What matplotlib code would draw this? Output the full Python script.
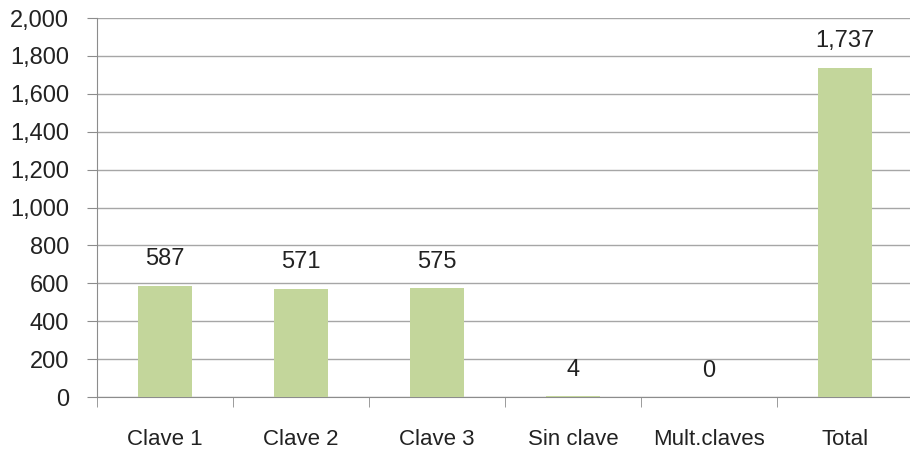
import matplotlib.pyplot as plt
from matplotlib.ticker import FuncFormatter, MultipleLocator

categorias = ['Clave 1', 'Clave 2', 'Clave 3', 'Sin clave', 'Mult.claves', 'Total']
valores = [587, 571, 575, 4, 0, 1737]

plt.rcParams['font.family'] = ['Liberation Sans', 'DejaVu Sans']

fig = plt.figure(figsize=(9.1, 4.57), dpi=100)
ax = fig.add_axes([97 / 910, 60 / 457, 816 / 910, 379 / 457])

x = list(range(len(categorias)))
ax.bar(x, valores, width=0.4, color='#C3D69B', zorder=3)

# etiquetas de datos
for xi, v in zip(x, valores):
    ax.annotate(f'{v:,}', (xi, v), xytext=(0, 19), textcoords='offset points',
                ha='center', va='center', fontsize=17, color='#222222')

ax.set_xlim(-0.5, len(categorias) - 0.5)
ax.set_ylim(0, 2000)
ax.yaxis.set_major_locator(MultipleLocator(200))
ax.yaxis.set_major_formatter(FuncFormatter(lambda v, p: f'{int(v):,}'))
ax.grid(axis='y', color='#A6A6A6', linewidth=1, zorder=0)

ax.set_xticks(x)
ax.set_xticklabels(categorias)
ax.set_xticks([i - 0.5 for i in range(len(categorias) + 1)], minor=True)
ax.tick_params(axis='x', which='major', length=0, pad=23, labelsize=16, labelcolor='#222222')
ax.tick_params(axis='x', which='minor', length=7, color='#8C8C8C')
ax.tick_params(axis='y', length=7, color='#8C8C8C', pad=13, labelsize=17, labelcolor='#222222')

for s in ['top', 'right']:
    ax.spines[s].set_visible(False)
for s in ['left', 'bottom']:
    ax.spines[s].set_color('#8C8C8C')

fig.savefig('out.png', dpi=100)
